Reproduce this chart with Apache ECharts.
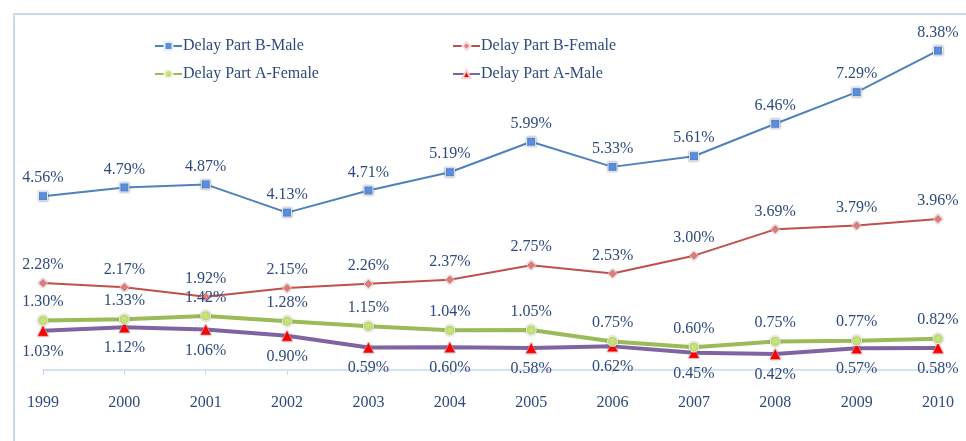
<!DOCTYPE html>
<html>
<head>
<meta charset="utf-8">
<style>
  html, body { margin: 0; padding: 0; background: #fff; }
  #chart { width: 966px; height: 441px; }
</style>
<script src="https://cdn.jsdelivr.net/npm/echarts@6/dist/echarts.min.js"></script>
</head>
<body>
<div id="chart"></div>
<script>
// years on the x axis
var years = ['1999', '2000', '2001', '2002', '2003', '2004', '2005', '2006', '2007', '2008', '2009', '2010'];
// percentages
var partBMale = [4.56, 4.79, 4.87, 4.13, 4.71, 5.19, 5.99, 5.33, 5.61, 6.46, 7.29, 8.38];
var partBFemale = [2.28, 2.17, 1.92, 2.15, 2.26, 2.37, 2.75, 2.53, 3.00, 3.69, 3.79, 3.96];
var partAFemale = [1.30, 1.33, 1.42, 1.28, 1.15, 1.04, 1.05, 0.75, 0.60, 0.75, 0.77, 0.82];
var partAMale = [1.03, 1.12, 1.06, 0.90, 0.59, 0.60, 0.58, 0.62, 0.45, 0.42, 0.57, 0.58];

var txtColor = '#2e4a7d';
var font = '"Liberation Serif", "DejaVu Serif", serif';

var myChart = echarts.init(document.getElementById('chart'));

function lbl(pos, dist) {
  return {
    show: true,
    position: pos,
    distance: dist,
    color: txtColor,
    fontFamily: font,
    fontSize: 16,
    formatter: function (p) { return p.value.toFixed(2) + '%'; }
  };
}

function legendItem(name, left, top) {
  return {
    data: [name],
    left: left,
    top: top,
    itemWidth: 27,
    itemHeight: 10,
    itemGap: 0,
    textStyle: { color: txtColor, fontFamily: font, fontSize: 16, padding: [0, 0, 0, -4] }
  };
}

var option = {
  animation: false,
  backgroundColor: '#fff',
  graphic: [{
    type: 'rect',
    shape: { x: 14, y: 14, width: 1000, height: 500 },
    style: { fill: 'none', stroke: '#c9dbf0', lineWidth: 2 },
    z: -10
  }],
  legend: [
    legendItem('Delay Part B-Male', 149, 33),
    legendItem('Delay Part B-Female', 447, 33),
    legendItem('Delay Part A-Female', 149, 61),
    legendItem('Delay Part A-Male', 447, 61)
  ],
  grid: { left: 43, right: 28, top: 27, bottom: 71 },
  xAxis: {
    type: 'category',
    data: years,
    boundaryGap: false,
    axisLine: { lineStyle: { color: '#c6d9f1', width: 1.5 } },
    axisTick: { show: true, length: 5, alignWithLabel: true, lineStyle: { color: '#c6d9f1' } },
    axisLabel: { color: txtColor, fontFamily: font, fontSize: 16, margin: 25, interval: 0 }
  },
  yAxis: {
    type: 'value',
    min: 0,
    max: 9,
    show: false,
    splitLine: { show: false }
  },
  series: [
    {
      name: 'Delay Part B-Male',
      type: 'line',
      data: partBMale,
      symbol: 'rect',
      symbolSize: 9,
      lineStyle: { color: '#4f81bd', width: 2 },
      itemStyle: { color: '#5b8fde', borderColor: '#e8eef8', borderWidth: 1, shadowBlur: 2, shadowColor: 'rgba(0,0,0,0.35)' },
      label: lbl('top', 5),
      z: 2
    },
    {
      name: 'Delay Part B-Female',
      type: 'line',
      data: partBFemale,
      symbol: 'diamond',
      symbolSize: 9,
      lineStyle: { color: '#c0504d', width: 2 },
      itemStyle: { color: '#e57d7d', borderColor: '#f6dede', borderWidth: 1, shadowBlur: 2, shadowColor: 'rgba(0,0,0,0.3)' },
      label: lbl('top', 5),
      z: 2
    },
    {
      name: 'Delay Part A-Female',
      type: 'line',
      data: partAFemale,
      symbol: 'circle',
      symbolSize: 10,
      lineStyle: { color: '#9bbb59', width: 4 },
      itemStyle: { color: '#c6e27b', borderColor: '#f2f8e4', borderWidth: 1, shadowBlur: 2, shadowColor: 'rgba(0,0,0,0.3)' },
      label: lbl('top', 5),
      z: 3
    },
    {
      name: 'Delay Part A-Male',
      type: 'line',
      data: partAMale,
      symbol: 'triangle',
      symbolSize: 11,
      lineStyle: { color: '#8064a2', width: 4 },
      itemStyle: { color: '#ff0000', borderColor: '#ffd0d0', borderWidth: 0.5, shadowBlur: 2, shadowColor: 'rgba(0,0,0,0.3)' },
      label: lbl('bottom', 7),
      z: 2
    }
  ]
};

myChart.setOption(option);
</script>
</body>
</html>
